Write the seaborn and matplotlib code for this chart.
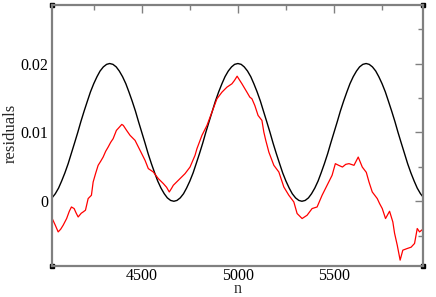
import numpy as np
import pandas as pd
import matplotlib
matplotlib.use("Agg")
import matplotlib.pyplot as plt
import seaborn as sns
from matplotlib.ticker import MultipleLocator, FixedFormatter, FixedLocator

# black curve
black_n = [4033, 4050, 4067, 4083,
           4100, 4117, 4133, 4150, 4167, 4183,
           4200, 4217, 4233, 4250, 4267, 4283,
           4300, 4317, 4333, 4350, 4367, 4383,
           4400, 4417, 4433, 4450, 4467, 4483,
           4500, 4517, 4533, 4550, 4567, 4583,
           4600, 4617, 4633, 4650, 4667, 4683,
           4700, 4717, 4733, 4750, 4767, 4783,
           4800, 4817, 4833, 4850, 4867, 4883,
           4900, 4917, 4933, 4950, 4967, 4983,
           5000, 5017, 5033, 5050, 5067, 5083,
           5100, 5117, 5133, 5150, 5167, 5183,
           5200, 5217, 5233, 5250, 5267, 5283,
           5300, 5317, 5333, 5350, 5367, 5383,
           5400, 5417, 5433, 5450, 5467, 5483,
           5500, 5517, 5533, 5550, 5567, 5583,
           5600, 5617, 5633, 5650, 5667, 5683,
           5700, 5717, 5733, 5750, 5767, 5783,
           5800, 5817, 5833, 5850, 5867, 5883,
           5900, 5917, 5933, 5950, 5967]
black_y = [0.00049, 0.00109, 0.00191, 0.00293,
           0.00412, 0.00546, 0.00691, 0.00844, 0.01000, 0.01156,
           0.01309, 0.01454, 0.01588, 0.01707, 0.01809, 0.01891,
           0.01951, 0.01988, 0.02000, 0.01988, 0.01951, 0.01891,
           0.01809, 0.01707, 0.01588, 0.01454, 0.01309, 0.01156,
           0.01000, 0.00844, 0.00691, 0.00546, 0.00412, 0.00293,
           0.00191, 0.00109, 0.00049, 0.00012, 0.00000, 0.00012,
           0.00049, 0.00109, 0.00191, 0.00293, 0.00412, 0.00546,
           0.00691, 0.00844, 0.01000, 0.01156, 0.01309, 0.01454,
           0.01588, 0.01707, 0.01809, 0.01891, 0.01951, 0.01988,
           0.02000, 0.01988, 0.01951, 0.01891, 0.01809, 0.01707,
           0.01588, 0.01454, 0.01309, 0.01156, 0.01000, 0.00844,
           0.00691, 0.00546, 0.00412, 0.00293, 0.00191, 0.00109,
           0.00049, 0.00012, 0.00000, 0.00012, 0.00049, 0.00109,
           0.00191, 0.00293, 0.00412, 0.00546, 0.00691, 0.00844,
           0.01000, 0.01156, 0.01309, 0.01454, 0.01588, 0.01707,
           0.01809, 0.01891, 0.01951, 0.01988, 0.02000, 0.01988,
           0.01951, 0.01891, 0.01809, 0.01707, 0.01588, 0.01454,
           0.01309, 0.01156, 0.01000, 0.00844, 0.00691, 0.00546,
           0.00412, 0.00293, 0.00191, 0.00109, 0.00049]

# red curve
red_n = [4034, 4050, 4065, 4078, 4091, 4109, 4123, 4134, 4148, 4159,
         4169, 4185, 4195, 4207, 4221, 4238, 4247, 4260, 4273, 4286,
         4299, 4312, 4325, 4338, 4351, 4368, 4382, 4396, 4404, 4421,
         4439, 4465, 4491, 4517, 4534, 4560, 4586, 4612, 4629, 4643,
         4655, 4664, 4690, 4725, 4751, 4777, 4787, 4813, 4839, 4865,
         4891, 4917, 4943, 4969, 4982, 4996, 5010, 5021, 5047, 5062,
         5073, 5088, 5105, 5125, 5135, 5145, 5156, 5161, 5187, 5213,
         5239, 5265, 5291, 5308, 5334, 5360, 5386, 5412, 5438, 5464,
         5490, 5507, 5524, 5544, 5561, 5578, 5604, 5626, 5647, 5668,
         5682, 5699, 5725, 5737, 5751, 5768, 5789, 5806, 5815, 5829,
         5844, 5858, 5881, 5901, 5919, 5933, 5945, 5962]
red_y = [-0.00251, -0.00348, -0.00445, -0.00406, -0.00348, -0.00251, -0.00145, -0.00083, -0.00106, -0.00174,
         -0.00228, -0.00174, -0.00155, -0.00130, 0.00039, 0.00087, 0.00280, 0.00406, 0.00522, 0.00580,
         0.00642, 0.00725, 0.00787, 0.00855, 0.00909, 0.01029, 0.01072, 0.01116, 0.01101, 0.01029,
         0.00957, 0.00884, 0.00739, 0.00594, 0.00474, 0.00425, 0.00329, 0.00257, 0.00203, 0.00135,
         0.00188, 0.00232, 0.00304, 0.00401, 0.00497, 0.00667, 0.00764, 0.00957, 0.01101, 0.01294,
         0.01488, 0.01584, 0.01657, 0.01706, 0.01754, 0.01816, 0.01754, 0.01706, 0.01584, 0.01512,
         0.01488, 0.01391, 0.01246, 0.01174, 0.01004, 0.00884, 0.00768, 0.00714, 0.00522, 0.00425,
         0.00207, 0.00087, -0.00010, -0.00178, -0.00251, -0.00203, -0.00106, -0.00083, 0.00087, 0.00232,
         0.00377, 0.00546, 0.00522, 0.00497, 0.00536, 0.00546, 0.00522, 0.00642, 0.00497, 0.00420,
         0.00280, 0.00135, 0.00039, -0.00033, -0.00106, -0.00251, -0.00145, -0.00300, -0.00464, -0.00638,
         -0.00855, -0.00710, -0.00686, -0.00667, -0.00613, -0.00396, -0.00445, -0.00406]

x_major = [4500, 5000, 5500]
x_labels = ["4500", "5000", "5500"]
y_major = [0.0, 0.01, 0.02]
y_labels = ["0", "0.01", "0.02"]

sns.set_style("white")
plt.rcParams['font.family'] = ['Liberation Serif', 'DejaVu Serif']

fig = plt.figure(figsize=(4.36, 2.97), dpi=100)
ax = fig.add_axes([0.1193, 0.1044, 0.8509, 0.8788])

black_df = pd.DataFrame({"n": black_n, "residuals": black_y})
red_df = pd.DataFrame({"n": red_n, "residuals": red_y})
sns.lineplot(data=black_df, x="n", y="residuals", color="black", lw=1.0,
             estimator=None, sort=False, ax=ax)
sns.lineplot(data=red_df, x="n", y="residuals", color="#ff0000", lw=0.9,
             estimator=None, sort=False, ax=ax)

ax.set_xlim(4033, 5963)
ax.set_ylim(-0.0094, 0.0285)

ax.xaxis.set_major_locator(FixedLocator(x_major))
ax.xaxis.set_major_formatter(FixedFormatter(x_labels))
ax.xaxis.set_minor_locator(MultipleLocator(250))
ax.yaxis.set_major_locator(FixedLocator(y_major))
ax.yaxis.set_major_formatter(FixedFormatter(y_labels))
ax.yaxis.set_minor_locator(MultipleLocator(0.005))

gray = "#808080"
for s in ax.spines.values():
    s.set_color(gray)
    s.set_linewidth(1.6)
ax.tick_params(which="both", direction="in", top=True, right=True,
               color=gray, width=1.0, labelsize=11.5, labelcolor="black")
ax.tick_params(which="major", length=6, pad=2.5)
ax.tick_params(axis="x", which="major", pad=1.5)
ax.tick_params(which="minor", length=3.5)

ax.set_xlabel("n", fontsize=11.5)
ax.set_ylabel("residuals", fontsize=12)
ax.xaxis.label.set_va("center")
ax.xaxis.set_label_coords(0.5, -0.088)
ax.yaxis.label.set_va("center")
ax.yaxis.set_label_coords(-0.11, 0.51)

# small corner squares of the frame
for cx, cy in [(0, 0), (1, 0), (0, 1), (1, 1)]:
    ax.plot([cx], [cy], marker="s", ms=3, color="black",
            transform=ax.transAxes, clip_on=False)

fig.savefig("out.png", dpi=100)
